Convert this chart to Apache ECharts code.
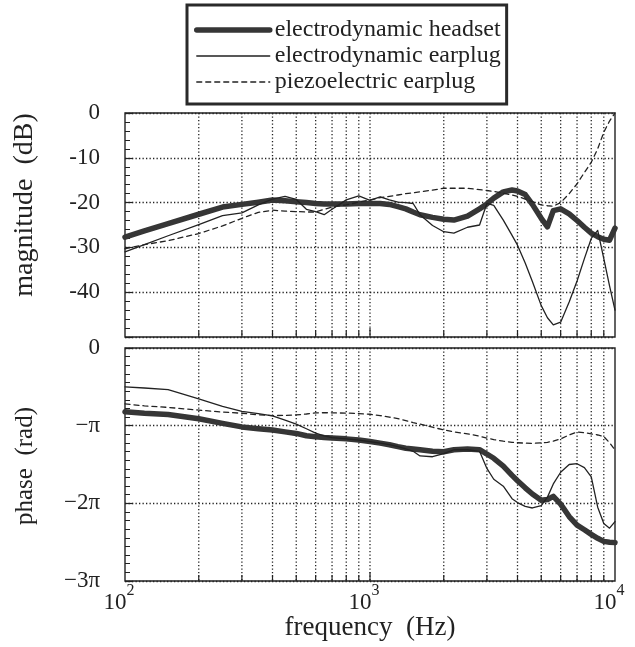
<!DOCTYPE html>
<html>
<head>
<meta charset="utf-8">
<script src="https://cdn.jsdelivr.net/npm/echarts@6/dist/echarts.min.js"></script>
<style>
html,body{margin:0;padding:0;background:#fff;}
#chart{width:635px;height:647px;}
</style>
</head>
<body>
<div id="chart"></div>
<script>
// frequency (Hz)
const freq = [100,120,150,200,250,300,350,400,450,500,550,600,650,700,800,900,1000,1100,1200,1300,1400,1500,1600,1800,2000,2200,2500,2800,3000,3200,3500,3800,4000,4300,4600,5000,5300,5600,6000,6500,7000,7500,8000,8500,9000,9500,10000];

// magnitude (dB)
const magHeadset = [-27.7,-26.3,-24.7,-22.6,-21.0,-20.4,-19.9,-19.4,-19.6,-19.8,-20.0,-20.2,-20.3,-20.3,-20.3,-20.2,-20.2,-20.2,-20.4,-20.9,-21.4,-22.1,-22.7,-23.3,-23.7,-23.9,-23.0,-21.4,-20.3,-19.0,-17.6,-17.2,-17.4,-18.2,-20.4,-23.5,-25.4,-21.8,-21.4,-22.5,-24.0,-25.5,-26.8,-27.6,-28.2,-28.4,-25.7];
const magEarplug = [-31.0,-29.4,-27.4,-24.9,-22.9,-22.3,-20.5,-19.2,-18.6,-19.3,-21.5,-22.0,-22.7,-21.5,-19.4,-18.5,-19.5,-18.7,-19.4,-19.9,-20.0,-20.2,-22.7,-25.1,-26.5,-26.8,-25.5,-25.0,-20.2,-20.6,-23.9,-27.3,-29.5,-33.5,-37.6,-43.0,-45.7,-47.3,-46.7,-42.2,-37.5,-32.5,-28.0,-26.2,-32.5,-38.6,-44.0];
const magPiezo = [-30.3,-29.4,-28.5,-26.9,-25.2,-23.5,-22.2,-21.7,-21.9,-22.0,-22.1,-22.1,-21.5,-21.0,-20.5,-19.9,-19.4,-18.9,-18.6,-18.3,-18.0,-17.8,-17.6,-17.2,-16.8,-16.8,-16.8,-17.1,-17.3,-17.5,-17.9,-18.3,-18.6,-19.2,-19.8,-20.5,-20.7,-20.8,-20.0,-18.0,-15.8,-13.3,-11.0,-8.0,-4.3,-1.8,0];

// phase (in multiples of pi rad)
const phaseHeadset = [-0.82,-0.84,-0.857,-0.91,-0.97,-1.016,-1.04,-1.057,-1.08,-1.10,-1.13,-1.143,-1.153,-1.16,-1.17,-1.185,-1.205,-1.225,-1.245,-1.27,-1.29,-1.30,-1.31,-1.33,-1.335,-1.31,-1.30,-1.31,-1.365,-1.42,-1.52,-1.64,-1.71,-1.80,-1.88,-1.96,-1.95,-1.91,-2.01,-2.17,-2.28,-2.34,-2.40,-2.45,-2.49,-2.50,-2.506];
const phaseEarplug = [-0.50,-0.515,-0.535,-0.655,-0.753,-0.815,-0.845,-0.875,-0.93,-0.98,-1.04,-1.095,-1.13,-1.155,-1.17,-1.185,-1.205,-1.225,-1.245,-1.27,-1.30,-1.33,-1.39,-1.40,-1.36,-1.31,-1.31,-1.33,-1.55,-1.69,-1.78,-1.94,-1.99,-2.04,-2.06,-2.03,-1.92,-1.75,-1.60,-1.50,-1.49,-1.54,-1.66,-2.05,-2.26,-2.32,-2.235];
const phasePiezo = [-0.72,-0.745,-0.765,-0.80,-0.825,-0.84,-0.86,-0.87,-0.868,-0.862,-0.85,-0.835,-0.833,-0.835,-0.838,-0.845,-0.853,-0.87,-0.89,-0.91,-0.935,-0.96,-0.98,-1.02,-1.055,-1.08,-1.105,-1.135,-1.16,-1.18,-1.20,-1.215,-1.22,-1.225,-1.227,-1.222,-1.215,-1.20,-1.17,-1.12,-1.08,-1.09,-1.105,-1.12,-1.14,-1.22,-1.313];

// vertical grid frequencies and tick labels
const xGridFreqs = [200,300,400,500,600,700,800,900,1000,2000,3000,4000,5000,6000,7000,8000,9000];
const phaseTickLabels = {'0':'0','-1':'\u2212\u03c0','-2':'\u22122\u03c0','-3':'\u22123\u03c0'};
const seriesNames = ['electrodynamic headset','electrodynamic earplug','piezoelectric earplug'];

const FONT = 'Liberation Serif';
const INK = '#222';

function pairs(ys){ return freq.map((f,i)=>[f, ys[i]]); }

function renderGrid(params, api){
  const cs = params.coordSys;
  const f = api.value(0);
  const x = api.coord([f, api.value(1)])[0];
  const len = f === 1000 ? 9 : 6;
  const bottom = cs.y + cs.height;
  return {
    type:'group',
    children:[
      {type:'line', shape:{x1:x,y1:cs.y,x2:x,y2:bottom}, style:{stroke:'#222', lineWidth:1.3, lineDash:[1.3,2.2]}},
      {type:'line', shape:{x1:x,y1:bottom,x2:x,y2:bottom-len}, style:{stroke:INK, lineWidth:1.2}}
    ]
  };
}

const styles = [
  {color:'#363636', width:5.5, type:'solid'},
  {color:'#222', width:1.3, type:'solid'},
  {color:'#222', width:1.3, type:[5,4]}
];

function lineSeries(name, idx, data, gi){
  const s = styles[idx];
  return {
    name: name, type:'line', xAxisIndex:gi, yAxisIndex:gi,
    data: pairs(data), symbol:'none', showSymbol:false, z:3,
    lineStyle:{color:s.color, width:s.width, type:s.type, cap:'round', join:'round'},
    itemStyle:{color:s.color},
    emphasis:{disabled:true}, animation:false
  };
}

const chart = echarts.init(document.getElementById('chart'), null, {renderer:'canvas'});

const yAxisCommon = {
  axisLine:{show:false},
  axisTick:{show:true, inside:true, length:8, lineStyle:{color:INK, width:1.2}},
  minorTick:{show:true, length:5, lineStyle:{color:INK, width:1}},
  splitLine:{show:true, lineStyle:{color:'#222', width:1.3, type:[1.3,2.2]}},
  axisLabel:{fontFamily:FONT, fontSize:23, color:INK, margin:25}
};

const option = {
  animation:false,
  backgroundColor:'#fff',
  legend:{
    data: seriesNames.map((n,i)=>({name:n, lineStyle:{width:styles[i].width, type:styles[i].type, color:styles[i].color}})),
    orient:'vertical',
    left:187, top:5,
    padding:[13,6,10,7],
    itemWidth:73, itemHeight:14, itemGap:2,
    borderColor:'#2a2a2a', borderWidth:3,
    selectedMode:false,
    itemStyle:{opacity:0},
    textStyle:{fontFamily:FONT, fontSize:24, color:INK, lineHeight:24}
  },
  grid:[
    {left:125, right:20, top:113, height:224, show:true, borderColor:INK, borderWidth:1.4, backgroundColor:'transparent'},
    {left:125, right:20, top:348, height:233, show:true, borderColor:INK, borderWidth:1.4, backgroundColor:'transparent'}
  ],
  xAxis:[
    {type:'log', logBase:10, min:100, max:10000, gridIndex:0,
     axisLine:{show:false}, axisTick:{show:false}, axisLabel:{show:false}, splitLine:{show:false}},
    {type:'log', logBase:10, min:100, max:10000, gridIndex:1,
     axisLine:{show:false}, axisTick:{show:false}, splitLine:{show:false},
     name:'frequency  (Hz)', nameLocation:'middle', nameGap:29,
     nameTextStyle:{fontFamily:FONT, fontSize:27, color:INK},
     axisLabel:{
       margin:2, padding:[0,12,0,0],
       formatter: v => '{b|10}{s|' + Math.round(Math.log10(v)) + '}',
       rich:{
         b:{fontFamily:FONT, fontSize:23, color:INK, padding:[8,0,0,0], verticalAlign:'bottom'},
         s:{fontFamily:FONT, fontSize:16, color:INK, verticalAlign:'top'}
       }
     }}
  ],
  yAxis:[
    Object.assign({}, yAxisCommon, {type:'value', gridIndex:0, min:-50, max:0, interval:10,
      minorTick:Object.assign({}, yAxisCommon.minorTick, {splitNumber:5}),
      axisLabel:Object.assign({}, yAxisCommon.axisLabel, {formatter: v => v === -50 ? '' : String(v)})}),
    Object.assign({}, yAxisCommon, {type:'value', gridIndex:1, min:-3, max:0, interval:1,
      minorTick:Object.assign({}, yAxisCommon.minorTick, {splitNumber:9}),
      axisLabel:Object.assign({}, yAxisCommon.axisLabel, {formatter: v => phaseTickLabels[String(Math.round(v))] || ''})})
  ],
  graphic:[
    {type:'text', x:25, y:205, rotation:Math.PI/2,
     style:{text:'magnitude  (dB)', fontFamily:FONT, fontSize:28, fill:INK, align:'center', verticalAlign:'middle'}},
    {type:'text', x:25, y:466, rotation:Math.PI/2,
     style:{text:'phase  (rad)', fontFamily:FONT, fontSize:25, fill:INK, align:'center', verticalAlign:'middle'}}
  ],
  series:[
    {type:'custom', xAxisIndex:0, yAxisIndex:0, renderItem:renderGrid, data:xGridFreqs.map(f=>[f,0]), silent:true, z:1, clip:false},
    {type:'custom', xAxisIndex:1, yAxisIndex:1, renderItem:renderGrid, data:xGridFreqs.map(f=>[f,0]), silent:true, z:1, clip:false},
    lineSeries(seriesNames[0], 0, magHeadset, 0),
    lineSeries(seriesNames[1], 1, magEarplug, 0),
    lineSeries(seriesNames[2], 2, magPiezo, 0),
    lineSeries(seriesNames[0], 0, phaseHeadset, 1),
    lineSeries(seriesNames[1], 1, phaseEarplug, 1),
    lineSeries(seriesNames[2], 2, phasePiezo, 1)
  ]
};
chart.setOption(option);
</script>
</body>
</html>
